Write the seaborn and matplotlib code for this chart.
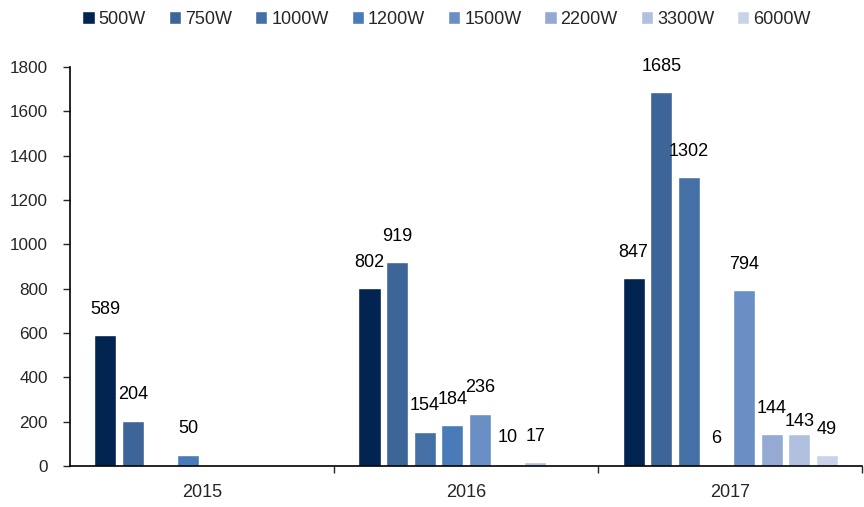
import pandas as pd
import numpy as np
import matplotlib.pyplot as plt
import seaborn as sns

sns.set_style('white')
plt.rcParams['font.family'] = ['Liberation Sans', 'DejaVu Sans']

years = ['2015', '2016', '2017']
powers = ['500W', '750W', '1000W', '1200W', '1500W', '2200W', '3300W', '6000W']
v500 = [589, 802, 847]
v750 = [204, 919, 1685]
v1000 = [np.nan, 154, 1302]
v1200 = [50, 184, 6]
v1500 = [np.nan, 236, 794]
v2200 = [np.nan, 10, 144]
v3300 = [np.nan, 17, 143]
v6000 = [np.nan, np.nan, 49]
colors = ['#022451', '#3d6597', '#4470a6', '#4a7bb9', '#6a8fc5', '#94aad3', '#b0c0de', '#c9d3e8']

series = [v500, v750, v1000, v1200, v1500, v2200, v3300, v6000]
rows = []
for p, vals in zip(powers, series):
    for y, v in zip(years, vals):
        rows.append({'year': y, 'power': p, 'value': v})
df = pd.DataFrame(rows)

fig = plt.figure(figsize=(8.64, 5.07), dpi=100)
ax = fig.add_axes([0.081, 0.081, 0.917, 0.787])
sns.barplot(data=df, x='year', y='value', hue='power', hue_order=powers,
            order=years, palette=colors, width=0.836, gap=0.2, ax=ax,
            saturation=1, legend=True)

for c in ax.containers:
    anns = ax.bar_label(c, fmt='%g', padding=12.5, fontsize=13, color='black')
    # 3300W label in 2017 sits lower, as in the reference (avoids 144 overlap)
    for a in anns:
        if a.get_text() == '143':
            a.xyann = (0, 3.2)

ax.set_ylim(0, 1800)
ax.set_yticks(range(0, 1801, 200))
ax.set_xlim(-0.5, 2.5)
ax.set_xlabel('')
ax.set_ylabel('')
ax.tick_params(axis='y', length=5, width=1, direction='out', left=True, labelsize=12.3, pad=11)
ax.tick_params(axis='x', which='major', length=0, labelsize=13, pad=13)
ax.set_xticks([0.5, 1.5, 2.5], minor=True)
ax.tick_params(axis='x', which='minor', length=5, width=1, direction='out', bottom=True)
for s in ['top', 'right']:
    ax.spines[s].set_visible(False)
for s in ['left', 'bottom']:
    ax.spines[s].set_color('black')
    ax.spines[s].set_linewidth(1.2)

handles, labels = ax.get_legend_handles_labels()
ax.legend(handles, labels, loc='upper center', bbox_to_anchor=(0.517, 1.0), bbox_transform=fig.transFigure,
          ncol=8, frameon=False, fontsize=13, handlelength=0.67, handleheight=0.67,
          handletextpad=0.22, columnspacing=1.28, borderaxespad=0.2)

fig.savefig('out.png', dpi=100)
